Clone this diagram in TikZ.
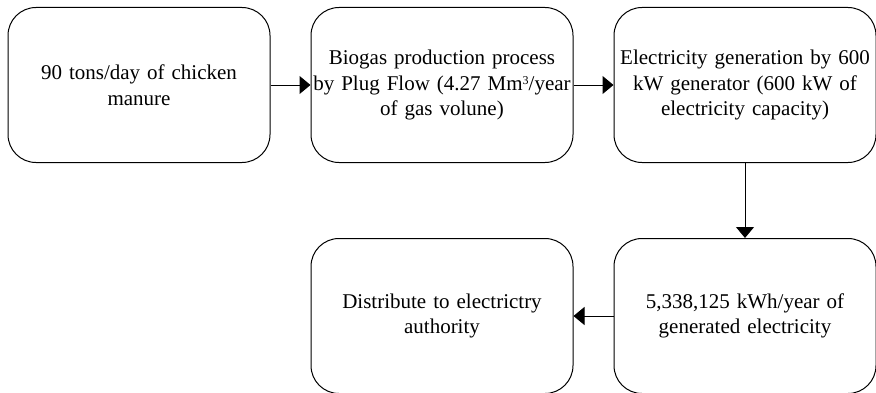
\documentclass[tikz,border=0pt]{standalone}
\usepackage{fontspec}
\setmainfont{Liberation Serif}
\usepackage{tikz}
\usetikzlibrary{shapes,arrows,positioning,calc,arrows.meta}

\begin{document}
\begin{tikzpicture}[x=1pt,y=1pt,
    stage/.style={draw, line width=1pt, rounded corners=28pt, minimum width=262pt, minimum height=155pt,
        text width=260pt, align=center, inner sep=1pt, font=\fontsize{21}{25.5}\selectfont},
    flow/.style={line width=1pt, -{Triangle[length=11pt,width=18pt]}}]
    \useasboundingbox (0,0) rectangle (876,392);

    % Top row
    \node[stage] (manure) at (139,307) {90 tons/day of chicken\\ manure};
    \node[stage, right=40pt of manure] (biogas) {Biogas production process\\ by Plug Flow (4.27 Mm{\fontsize{12}{12}\selectfont\raisebox{6pt}{3}}/year\\ of gas volune)};
    \node[stage, right=40pt of biogas] (power) {Electricity generation by 600\\ kW generator (600 kW of\\ electricity capacity)};

    % Bottom row
    \node[stage, below=75pt of power] (yield) {5,338,125 kWh/year of\\ generated electricity};
    \node[stage, left=40pt of yield] (grid) {Distribute to electrictry\\ authority};

    % Arrows
    \draw[flow] (manure) -- (biogas);
    \draw[flow] (biogas) -- (power);
    \draw[flow] (power) -- (yield);
    \draw[flow] (yield) -- (grid);
\end{tikzpicture}
\end{document}
